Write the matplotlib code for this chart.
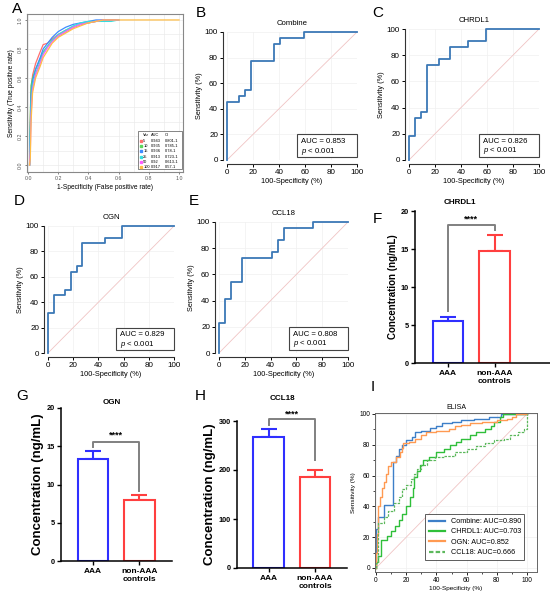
import matplotlib
matplotlib.use('Agg')
import matplotlib.pyplot as plt
from matplotlib.patches import Rectangle

plt.rcParams['font.family'] = ['Liberation Sans', 'DejaVu Sans']
plt.rcParams['mathtext.fontset'] = 'custom'
plt.rcParams['mathtext.it'] = 'Liberation Sans:italic'
plt.rcParams['mathtext.rm'] = 'Liberation Sans'

W, H = 550, 593

# ---------------- data ----------------
# A: ROC curves by number of variables
a_fpr = [0.01, 0.015, 0.02, 0.03, 0.05, 0.08, 0.10, 0.13, 0.16, 0.20, 0.25, 0.30, 0.35, 0.40, 0.45, 0.50, 0.55, 0.60]
a_tpr_5 = [0.00, 0.30, 0.52, 0.62, 0.70, 0.78, 0.83, 0.84, 0.87, 0.90, 0.93, 0.95, 0.97, 0.98, 0.99, 1.00, 1.00, 1.00]
a_tpr_10 = [0.00, 0.35, 0.55, 0.60, 0.66, 0.73, 0.78, 0.82, 0.86, 0.89, 0.92, 0.95, 0.97, 0.98, 0.99, 1.00, 1.00, 1.00]
a_tpr_15 = [0.00, 0.25, 0.48, 0.58, 0.66, 0.74, 0.80, 0.84, 0.88, 0.92, 0.95, 0.97, 0.98, 0.99, 1.00, 1.00, 1.00, 1.00]
a_tpr_25 = [0.00, 0.20, 0.42, 0.55, 0.63, 0.71, 0.77, 0.82, 0.86, 0.90, 0.93, 0.96, 0.98, 0.99, 0.99, 0.99, 0.99, 1.00]
a_tpr_50 = [0.00, 0.10, 0.35, 0.52, 0.62, 0.70, 0.76, 0.81, 0.85, 0.89, 0.92, 0.95, 0.97, 0.98, 0.99, 1.00, 1.00, 1.00]
a_fpr_100 = a_fpr + [1.00]
a_tpr_100 = [0.00, 0.05, 0.30, 0.50, 0.60, 0.68, 0.74, 0.79, 0.84, 0.88, 0.91, 0.94, 0.96, 0.98, 0.99, 1.00, 1.00, 1.00, 1.00]
a_vars = ['5', '10', '15', '25', '50', '100']
a_auc = ['0.943', '0.935', '0.936', '0.913', '0.92', '0.917']
a_ci = ['0.801-1', '0.785-1', '0.78-1', '0.723-1', '0.613-1', '0.57-1']
a_colors = ['#ff6f6f', '#5bd65b', '#3d8bff', '#35dede', '#ff5cff', '#ffbd45']

# B-E: step ROC curves (100-specificity, sensitivity)
combine_x = [0, 0, 9.1, 13.6, 18.2, 36.4, 40.9, 59.1, 100]
combine_y = [0, 45.5, 50.0, 54.5, 77.3, 90.9, 95.5, 100, 100]
chrdl1_x = [0, 0, 4.5, 9.1, 13.6, 22.7, 31.8, 45.5, 59.1, 100]
chrdl1_y = [0, 18.2, 31.8, 36.4, 72.7, 77.3, 86.4, 90.9, 100, 100]
ogn_x = [0, 0, 4.5, 13.6, 18.2, 22.7, 27.3, 45.5, 59.1, 100]
ogn_y = [0, 31.8, 45.5, 50.0, 63.6, 68.2, 86.4, 90.9, 100, 100]
ccl18_x = [0, 0, 4.5, 9.1, 18.2, 40.9, 45.5, 50.0, 72.7, 100]
ccl18_y = [0, 22.7, 40.9, 54.5, 72.7, 77.3, 86.4, 95.5, 100, 100]
roc_auc = {'Combine': '0.853', 'CHRDL1': '0.826', 'OGN': '0.829', 'CCL18': '0.808'}

# F-H: concentrations (mean, upper error)
groups = ['AAA', 'non-AAA\ncontrols']
chrdl1_mean = [5.5, 14.8]
chrdl1_err = [0.6, 2.1]
ogn_mean = [13.3, 8.0]
ogn_err = [1.1, 0.6]
ccl18_mean = [268, 186]
ccl18_err = [16, 14]

# I: ELISA ROC curves
el_combine_x = [0, 0, 1, 5, 11.5, 13, 15, 17, 20, 24, 26, 30, 36, 40, 44, 50, 56, 65, 75, 83, 100]
el_combine_y = [0, 25, 33, 41, 69, 73, 77, 80, 83, 85, 88, 89, 91, 92, 94, 95, 96, 97, 98, 100, 100]
el_chrdl1_x = [0, 0, 1.5, 3.5, 7, 10, 12.5, 15, 17, 20, 22.5, 24.5, 25, 27, 29, 31, 35, 40, 45, 49, 53, 56, 62, 66, 72, 76, 78, 82, 84, 100]
el_chrdl1_y = [0, 4, 8, 18, 21, 24, 27, 31, 35, 40, 46, 52, 59, 63, 67, 70, 72, 75, 77, 80, 82, 84, 86, 88, 90, 92, 95, 98, 100, 100]
el_ogn_x = [0, 0, 0.5, 1, 1.5, 2.5, 4, 5, 6.5, 8, 10, 13, 16, 17, 18, 22, 26, 30, 33, 40, 48, 52, 56, 62, 70, 80, 87, 90, 93, 100]
el_ogn_y = [0, 10, 22, 30, 40, 46, 52, 56, 61, 66, 69, 72, 75, 78, 81, 82, 84, 86, 88, 89, 90, 92, 93, 94, 95, 96, 97, 98, 100, 100]
el_ccl18_x = [0, 0, 1.5, 5, 8, 12, 15, 17, 20, 23, 25, 27, 30, 34, 39, 45, 52, 60, 66, 72, 78, 85, 89, 94, 98, 100, 100]
el_ccl18_y = [0, 3, 29, 33, 37, 42, 46, 51, 54, 58, 61, 64, 67, 70, 72, 73, 75, 77, 79, 81, 83, 84, 86, 88, 90, 92, 100]
el_auc = {'Combine': '0.890', 'CHRDL1': '0.703', 'OGN': '0.852', 'CCL18': '0.666'}

# ---------------- figure ----------------
fig = plt.figure(figsize=(W / 100, H / 100), dpi=100)


def px_axes(x0, y0, x1, y1):
    return fig.add_axes([x0 / W, 1 - y1 / H, (x1 - x0) / W, (y1 - y0) / H])


def letter(x, y, s):
    fig.text(x / W, 1 - y / H, s, fontsize=11, ha='left', va='top')


# ---- A ----
ax = px_axes(27, 14, 183, 172)
series = [(a_fpr, a_tpr_5), (a_fpr, a_tpr_10), (a_fpr, a_tpr_15),
          (a_fpr, a_tpr_25), (a_fpr, a_tpr_50), (a_fpr_100, a_tpr_100)]
for (xs, ys), c in zip(series, a_colors):
    ax.plot(xs, ys, color=c, lw=0.9)
ax.set_xlim(-0.007, 1.026)
ax.set_ylim(-0.048, 1.041)
ticks = [0, 0.2, 0.4, 0.6, 0.8, 1.0]
ax.set_xticks(ticks)
ax.set_yticks(ticks)
ax.set_xticklabels(['0.0', '0.2', '0.4', '0.6', '0.8', '1.0'])
ax.set_yticklabels(['0.0', '0.2', '0.4', '0.6', '0.8', '1.0'], rotation=90, va='center')
ax.set_xticks([0.1, 0.3, 0.5, 0.7, 0.9], minor=True)
ax.set_yticks([0.1, 0.3, 0.5, 0.7, 0.9], minor=True)
ax.grid(which='both', color='#ebebeb', lw=0.5)
ax.set_axisbelow(True)
ax.tick_params(labelsize=3.8, length=1.5, width=0.5, colors='#555555', pad=1.5)
ax.tick_params(which='minor', length=0)
for s in ax.spines.values():
    s.set_color('#888888')
    s.set_linewidth(0.8)
ax.set_xlabel('1-Specificity (False positive rate)', fontsize=4.8, labelpad=2)
ax.set_ylabel('Sensitivity (True positive rate)', fontsize=4.8, labelpad=2)
ax.add_patch(Rectangle((0.71, 0.02), 0.284, 0.24, transform=ax.transAxes,
                       facecolor='white', edgecolor='#555555', lw=0.5, zorder=5))
cols = [0.745, 0.795, 0.885]
for cx, head in zip(cols, ['Var', 'AUC', 'CI']):
    ax.text(cx, 0.232, head, transform=ax.transAxes, fontsize=2.9, va='center', zorder=6)
for i, (v, a, ci, c) in enumerate(zip(a_vars, a_auc, a_ci, a_colors)):
    yy = 0.198 - i * 0.0335
    ax.plot([0.728], [yy], 's', ms=1.5, color=c, transform=ax.transAxes, zorder=6)
    for cx, s in zip(cols, [v, a, ci]):
        ax.text(cx, yy, s, transform=ax.transAxes, fontsize=2.9, va='center', zorder=6)
letter(12, 2, 'A')


# ---- B-E ----
def roc_panel(rect, title, xs, ys):
    ax = px_axes(*rect)
    ax.plot([0, 100], [0, 100], color='#f0c4c4', lw=0.6, zorder=1)
    ax.step(xs, ys, where='post', color='#3b78b6', lw=1.3, clip_on=False, zorder=3)
    ax.set_xlim(0, 100)
    ax.set_ylim(0, 100)
    t = [0, 20, 40, 60, 80, 100]
    ax.set_xticks(t)
    ax.set_yticks(t)
    ax.grid(color='#f0f0f0', lw=0.5)
    ax.set_axisbelow(True)
    for side in ['top', 'right']:
        ax.spines[side].set_visible(False)
    for side in ['left', 'bottom']:
        ax.spines[side].set_position(('outward', 3))
        ax.spines[side].set_color('#333333')
        ax.spines[side].set_linewidth(0.8)
    ax.tick_params(labelsize=5.8, length=2, width=0.7, pad=1.5)
    ax.set_xlabel('100-Specificity (%)', fontsize=5.3, labelpad=1.5)
    ax.set_ylabel('Sensitivity (%)', fontsize=5.3, labelpad=1.5)
    ax.set_title(title, fontsize=5.6, pad=5)
    ax.add_patch(Rectangle((54, 2), 46, 18, facecolor='white', edgecolor='#444444',
                           lw=0.8, clip_on=False, zorder=4))
    ax.text(57, 14.5, 'AUC = ' + roc_auc[title], fontsize=5.6, va='center', zorder=5)
    ax.text(57, 7.0, '$p$ < 0.001', fontsize=5.6, va='center', zorder=5)
    return ax


roc_panel((227, 32, 357, 160), 'Combine', combine_x, combine_y)
roc_panel((409, 29, 539, 160), 'CHRDL1', chrdl1_x, chrdl1_y)
roc_panel((48, 226, 174, 353), 'OGN', ogn_x, ogn_y)
roc_panel((219, 222, 348, 353), 'CCL18', ccl18_x, ccl18_y)
letter(196, 6, 'B')
letter(372, 6, 'C')
letter(14, 194, 'D')
letter(189, 194, 'E')


# ---- F-H ----
bar_colors = ['#2f2fff', '#ff3f3f']


def bar_panel(rect, xlim, means, errs, ymax, yticks, bracket, star_y, ylab_fs, title, title_px):
    ax = px_axes(*rect)
    for x, m, e, c in zip([0, 1], means, errs, bar_colors):
        ax.errorbar(x, m, yerr=[[0], [e]], color=c, capsize=5.5, elinewidth=1.5,
                    capthick=1.5, zorder=1)
        ax.bar(x, m, width=0.65, facecolor='white', edgecolor=c, linewidth=1.5, zorder=2)
    lb, top, rb = bracket
    ax.plot([0, 0, 1, 1], [lb, top, top, rb], color='#808080', lw=1.4, clip_on=False, zorder=3)
    ax.text(0.5, star_y, '****', fontsize=6.5, fontweight='bold', ha='center', va='center')
    ax.set_xlim(*xlim)
    ax.set_ylim(0, ymax)
    ax.set_yticks(yticks)
    ax.set_xticks([0, 1])
    ax.set_xticklabels(groups, fontsize=6, fontweight='bold', linespacing=1.2)
    for lab in ax.get_yticklabels():
        lab.set_fontweight('bold')
    ax.tick_params(axis='y', labelsize=5.3, length=3, width=1, pad=1.5)
    ax.tick_params(axis='x', length=3, width=1, pad=2)
    for side in ['top', 'right']:
        ax.spines[side].set_visible(False)
    for side in ['left', 'bottom']:
        ax.spines[side].set_linewidth(1.1)
    ax.set_ylabel('Concentration (ng/mL)', fontsize=ylab_fs, fontweight='bold', labelpad=2)
    fig.text(title_px[0] / W, 1 - title_px[1] / H, title, fontsize=5.8,
             fontweight='bold', ha='center', va='center')
    return ax


bar_panel((415, 211, 550, 363), (-0.72, 2.2), chrdl1_mean, chrdl1_err, 20,
          [0, 5, 10, 15, 20], (6.8, 18.1, 17.5), 18.9, 7, 'CHRDL1', (460, 203))
bar_panel((61, 408, 172, 561), (-0.69, 1.7), ogn_mean, ogn_err, 20,
          [0, 5, 10, 15, 20], (14.9, 15.6, 9.2), 16.5, 9.5, 'OGN', (112, 402))
bar_panel((237, 421, 347, 568), (-0.68, 1.69), ccl18_mean, ccl18_err, 300,
          [0, 100, 200, 300], (292, 304, 220), 315, 9.5, 'CCL18', (282, 399))
letter(373, 212, 'F')
letter(16, 389, 'G')
letter(195, 389, 'H')

# ---- I ----
ax = px_axes(375, 413, 537, 572)
ax.plot([0, 100], [0, 100], color='#f0c4c4', lw=0.6, zorder=1)
ax.step(el_combine_x, el_combine_y, where='post', color='#3d7fc8', lw=1.0,
        label='Combine: AUC=' + el_auc['Combine'])
ax.step(el_chrdl1_x, el_chrdl1_y, where='post', color='#2fbf3a', lw=1.0,
        label='CHRDL1: AUC=' + el_auc['CHRDL1'])
ax.step(el_ogn_x, el_ogn_y, where='post', color='#ff9a52', lw=1.0,
        label='OGN: AUC=' + el_auc['OGN'])
ax.step(el_ccl18_x, el_ccl18_y, where='post', color='#5cb85c', lw=0.9, ls=(0, (2, 1)),
        label='CCL18: AUC=' + el_auc['CCL18'])
ax.set_xlim(-0.7, 106.6)
ax.set_ylim(-2.6, 100.6)
t = [0, 20, 40, 60, 80, 100]
ax.set_xticks(t)
ax.set_yticks(t)
ax.set_xticks([10, 30, 50, 70, 90], minor=True)
ax.set_yticks([10, 30, 50, 70, 90], minor=True)
ax.grid(color='#f0f0f0', lw=0.5)
ax.set_axisbelow(True)
for s in ax.spines.values():
    s.set_color('#666666')
    s.set_linewidth(0.7)
ax.tick_params(labelsize=4.8, length=2, width=0.6, pad=1.5)
ax.tick_params(which='minor', length=1.2, width=0.5)
ax.set_xlabel('100-Specificity (%)', fontsize=4.6, labelpad=1.5)
ax.set_ylabel('Sensitivity (%)', fontsize=4.6, labelpad=2)
ax.set_title('ELISA', fontsize=5, pad=3)
leg = ax.legend(loc='lower right', bbox_to_anchor=(0.945, 0.055), fontsize=5.2,
                frameon=True, fancybox=False, borderpad=0.5, labelspacing=0.45,
                handlelength=2.2)
leg.get_frame().set_edgecolor('#333333')
leg.get_frame().set_linewidth(0.7)
for h in leg.get_lines():
    h.set_linewidth(1.6)
letter(371, 380, 'I')

fig.savefig('out.png', dpi=100)
